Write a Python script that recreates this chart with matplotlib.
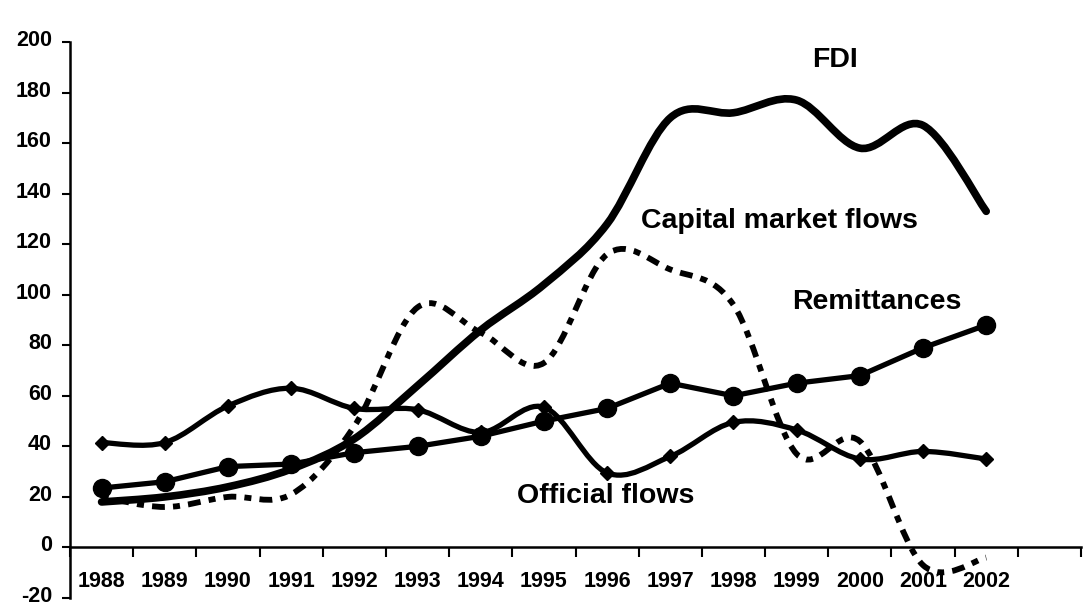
import matplotlib
matplotlib.use("Agg")
import matplotlib.pyplot as plt
import matplotlib.transforms as mtransforms
from matplotlib.path import Path
from matplotlib.patches import PathPatch
import numpy as np

years = ["1988", "1989", "1990", "1991", "1992", "1993", "1994", "1995",
         "1996", "1997", "1998", "1999", "2000", "2001", "2002"]
fdi = [18, 20, 24, 31, 43, 64, 86, 104, 128, 170, 172, 177, 158, 167, 133]
capital = [20, 16, 20, 21, 48, 95, 85, 73, 116, 110, 96, 37, 42, -7, -4]
remittances = [23.5, 26, 32, 33, 37.5, 40, 44, 50, 55, 65, 60, 65, 68, 79, 88]
official = [41.5, 41.5, 56, 63, 55, 54.5, 45.5, 55.5, 29.5, 36, 49.5, 46.5, 35, 38, 35]

plt.rcParams['font.family'] = ['Liberation Sans', 'DejaVu Sans']

fig = plt.figure(figsize=(10.88, 6.05), dpi=100)
ax = fig.add_axes([70 / 1088, 7 / 605, 1011 / 1088, 556 / 605])

x = np.arange(len(years))


def smooth_path(xs, ys):
    xs = np.asarray(xs, float)
    ys = np.asarray(ys, float)
    pts = np.column_stack([xs, ys])
    verts = [pts[0]]
    codes = [Path.MOVETO]
    n = len(pts)
    for i in range(n - 1):
        p0 = pts[i - 1] if i > 0 else pts[i]
        p1 = pts[i]
        p2 = pts[i + 1]
        p3 = pts[i + 2] if i + 2 < n else pts[i + 1]
        c1 = p1 + (p2 - p0) / 6.0
        c2 = p2 - (p3 - p1) / 6.0
        verts += [c1, c2, p2]
        codes += [Path.CURVE4] * 3
    return Path(verts, codes)


# FDI
ax.add_patch(PathPatch(smooth_path(x, fdi), fill=False, lw=5.5, ec='black',
                       capstyle='round', joinstyle='round', zorder=3))
# Capital market flows
ax.add_patch(PathPatch(smooth_path(x, capital), fill=False, lw=4.2, ec='black',
                       linestyle=(0, (1.2, 1.4, 2.2, 1.4)), zorder=2))
# Official flows
ax.add_patch(PathPatch(smooth_path(x, official), fill=False, lw=3.8, ec='black',
                       joinstyle='round', zorder=3))
ax.plot(x, official, linestyle='none', marker='D', ms=7.5, color='black', zorder=4)
# Remittances
ax.plot(x, remittances, '-', lw=3.8, color='black', marker='o', ms=13, zorder=4)

ax.set_xlim(-0.5, 15.5)
ax.set_ylim(-20, 200)

for s in ['top', 'right']:
    ax.spines[s].set_visible(False)
ax.spines['bottom'].set_position(('data', 0))
ax.spines['bottom'].set_linewidth(1.8)
ax.spines['left'].set_linewidth(1.8)

ax.set_yticks(np.arange(-20, 201, 20))
ax.set_yticklabels([str(v) for v in range(-20, 201, 20)], fontweight='bold', fontsize=15.5)
ax.tick_params(axis='y', direction='out', length=6, width=1.5, pad=7)
up = mtransforms.ScaledTranslation(0, 4 / 100, fig.dpi_scale_trans)
for lbl in ax.get_yticklabels():
    lbl.set_transform(lbl.get_transform() + up)

ax.set_xticks(np.arange(-0.5, 15.6, 1))
ax.set_xticklabels([])
ax.tick_params(axis='x', which='major', direction='out', length=7, width=1.5)
ax.set_xticks(x, minor=True)
ax.set_xticklabels(years, minor=True, fontweight='bold', fontsize=15.5)
ax.tick_params(axis='x', which='minor', length=0, pad=17)

kw = dict(fontweight='bold', fontsize=20.5, ha='center', va='center')
ax.text(11.6, 193, "FDI", **kw)
ax.text(10.73, 129, "Capital market flows", **kw)
ax.text(12.27, 97, "Remittances", **kw)
ax.text(7.98, 20.5, "Official flows", **kw)

fig.savefig("out.png", dpi=100)
